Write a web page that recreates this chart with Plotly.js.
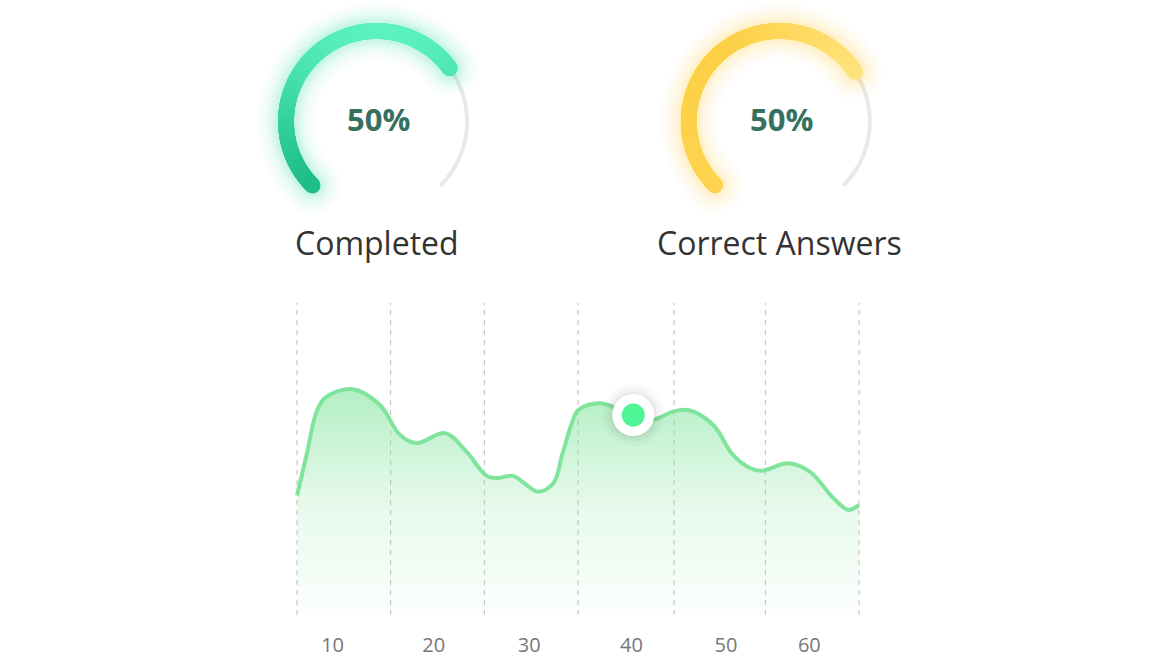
<!DOCTYPE html>
<html>
<head>
<meta charset="utf-8">
<script src="https://cdn.plot.ly/plotly-3.0.1.min.js"></script>
<style>html,body{margin:0;padding:0;background:#fff;}#chart{width:1158px;height:668px;}</style>
</head>
<body>
<div id="chart"></div>
<script>
// ---- Data ----
const gaugeLabels = ['Completed', 'Correct Answers'];
const gaugeTexts = ['50%', '50%'];
const gaugeFill = [0.70, 0.71];          // fraction of the 270° track that is coloured

const lineX = [0, 1.05, 2.1, 2.99, 5.84, 8.86, 11.0, 12.78, 15.8, 17.94, 20.25, 21.32, 23.09, 24.23, 25.76, 27.36, 28.35, 29.33, 30.03, 32.35, 35.9, 37.9, 40.14, 41.77, 44.44, 46.55, 48.36, 49.61, 52.42, 54.77, 57.25, 58.86, 60];
const lineY = [38.3, 51.7, 65.2, 69.6, 72.4, 67.3, 57.7, 55.1, 58.3, 52.9, 44.6, 43.9, 44.6, 42.3, 39.5, 42.2, 51.8, 61.4, 65.7, 67.9, 64.1, 62.5, 65.2, 65.7, 60.9, 51.3, 47.1, 46.2, 48.6, 45.9, 37.5, 33.7, 35.3];

const highlightX = [35.9];
const highlightY = [64.1];

const gridX = [0, 10, 20, 30, 40.25, 50, 60];
const tickPos = [3.8, 14.6, 24.8, 35.7, 45.8, 54.7];
const tickLabels = ['10', '20', '30', '40', '50', '60'];

// ---- Helpers ----
const W = 1158, H = 668;
function px2x(p) { return p / W; }
function py2y(p) { return 1 - p / H; }

const traces = [];
const pxPerUnit = (859 - 297) / 60;
const pad = 0.3;
const layout = {
  width: W, height: H,
  margin: {l: 0, r: 0, t: 0, b: 0},
  paper_bgcolor: '#ffffff', plot_bgcolor: 'rgba(0,0,0,0)',
  showlegend: false,
  font: {family: 'Open Sans, sans-serif'},
  xaxis: {
    domain: [px2x(297 - pad * pxPerUnit), px2x(859 + pad * pxPerUnit)], range: [-pad, 60 + pad],
    showgrid: false, zeroline: false, showline: false,
    tickmode: 'array', tickvals: tickPos, ticktext: tickLabels,
    ticks: '', tickfont: {size: 20, color: '#777777', family: 'Open Sans, sans-serif'},
    ticklabelstandoff: 16,
    fixedrange: true
  },
  yaxis: {
    domain: [py2y(615), py2y(303)], range: [0, 100],
    visible: false, showgrid: false, zeroline: false, fixedrange: true
  },
  annotations: []
};

// ---- Gauges ----
const centers = [[376.5, 121.5], [779.3, 121.5]];
const palettes = [
  {stops: ['#1dbd85', '#5cf2be'], glow: '#3ee6a6', mode: 'vertical'},
  {stops: ['#fdd350', '#fdd045', '#ffe37f'], glow: '#ffd23f', mode: 'along'}
];
const rangeMax = 1.3, Rpx = 90.5;
const startDeg = 225, spanDeg = 270;

gaugeLabels.forEach((lab, i) => {
  const [cx, cy] = centers[i];
  const half = Rpx * rangeMax;
  const pid = i === 0 ? 'polar' : 'polar2';
  layout[pid] = {
    domain: {x: [px2x(cx - half), px2x(cx + half)], y: [py2y(cy + half), py2y(cy - half)]},
    bgcolor: 'rgba(0,0,0,0)',
    radialaxis: {visible: false, range: [0, rangeMax]},
    angularaxis: {visible: false, rotation: 0, direction: 'counterclockwise'}
  };
  const endDeg = startDeg - spanDeg * gaugeFill[i];
  // grey track
  const tTrack = [], rTrack = [];
  for (let a = startDeg - spanDeg; a <= endDeg + 0.001; a += 0.5) { tTrack.push(a); rTrack.push(1); }
  traces.push({type: 'scatterpolar', subplot: pid, mode: 'lines', theta: tTrack, r: rTrack,
    line: {color: '#e6e9ed', width: 4}, hoverinfo: 'skip'});
  // coloured arc
  const tArc = [], rArc = [], cArc = [];
  for (let a = endDeg; a <= startDeg + 0.001; a += 0.5) {
    tArc.push(a); rArc.push(1);
    if (palettes[i].mode === 'vertical') cArc.push(Math.sin(a * Math.PI / 180));
    else cArc.push((startDeg - a) / (startDeg - endDeg));
  }
  // soft glow layers
  [[56, 0.025], [48, 0.03], [40, 0.035], [33, 0.045], [27, 0.06], [22, 0.08]].forEach(([w, op]) => {
    traces.push({type: 'scatterpolar', subplot: pid, mode: 'markers', theta: tArc, r: rArc,
      marker: {size: w, color: palettes[i].glow, line: {width: 0}}, opacity: op, hoverinfo: 'skip'});
  });
  const st = palettes[i].stops;
  let cs, cmin, cmax;
  if (palettes[i].mode === 'vertical') { cs = [[0, st[0]], [1, st[1]]]; cmin = -0.75; cmax = 1; }
  else { cs = [[0, st[0]], [0.5, st[1]], [1, st[2]]]; cmin = 0; cmax = 1; }
  traces.push({type: 'scatterpolar', subplot: pid, mode: 'markers', theta: tArc, r: rArc,
    marker: {size: 16, color: cArc, colorscale: cs, cmin: cmin, cmax: cmax, line: {width: 0}, showscale: false},
    hoverinfo: 'skip'});

  layout.annotations.push({xref: 'paper', yref: 'paper', x: px2x(cx + 2), y: py2y(cy - 2), text: '<b>' + gaugeTexts[i] + '</b>',
    showarrow: false, xanchor: 'center', yanchor: 'middle', font: {size: 31, color: '#36705e', family: 'Open Sans, sans-serif'}});
  layout.annotations.push({xref: 'paper', yref: 'paper', x: px2x(cx), y: py2y(242), text: lab,
    showarrow: false, xanchor: 'center', yanchor: 'middle', font: {size: 32, color: '#333333', family: 'Open Sans, sans-serif'}});
});

// ---- Dashed vertical gridlines (drawn through the axes) ----
const gx = [], gy = [];
gridX.forEach(v => { gx.push(v, v, null); gy.push(0, 100, null); });
traces.push({type: 'scatter', mode: 'lines', x: gx, y: gy,
  line: {color: '#bcbcbc', width: 1, dash: '5px,5px'}, hoverinfo: 'skip', cliponaxis: false});

// ---- Line chart ----
traces.push({
  type: 'scatter', mode: 'lines', x: lineX, y: lineY,
  line: {color: '#80e49c', width: 4, shape: 'spline', smoothing: 1},
  fill: 'tozeroy',
  fillgradient: {type: 'vertical', colorscale: [[0, 'rgba(128,228,156,0.02)'], [0.5, 'rgba(128,228,156,0.2)'], [1, 'rgba(128,228,156,0.6)']]},
  hoverinfo: 'skip', cliponaxis: false
});
// highlight marker with soft shadow
[[62, 'rgba(0,0,0,0.02)'], [54, 'rgba(0,0,0,0.03)'], [47, 'rgba(0,0,0,0.04)']].forEach(([s, c]) => {
  traces.push({type: 'scatter', mode: 'markers', x: highlightX, y: highlightY,
    marker: {size: s, color: c, line: {width: 0}}, hoverinfo: 'skip', cliponaxis: false});
});
traces.push({type: 'scatter', mode: 'markers', x: highlightX, y: highlightY,
  marker: {size: 42, color: '#ffffff', line: {width: 0}}, hoverinfo: 'skip', cliponaxis: false});
traces.push({type: 'scatter', mode: 'markers', x: highlightX, y: highlightY,
  marker: {size: 23, color: '#4ef594', line: {width: 0}}, hoverinfo: 'skip', cliponaxis: false});

Plotly.newPlot('chart', traces, layout, {displayModeBar: false, staticPlot: true});
</script>
</body>
</html>
